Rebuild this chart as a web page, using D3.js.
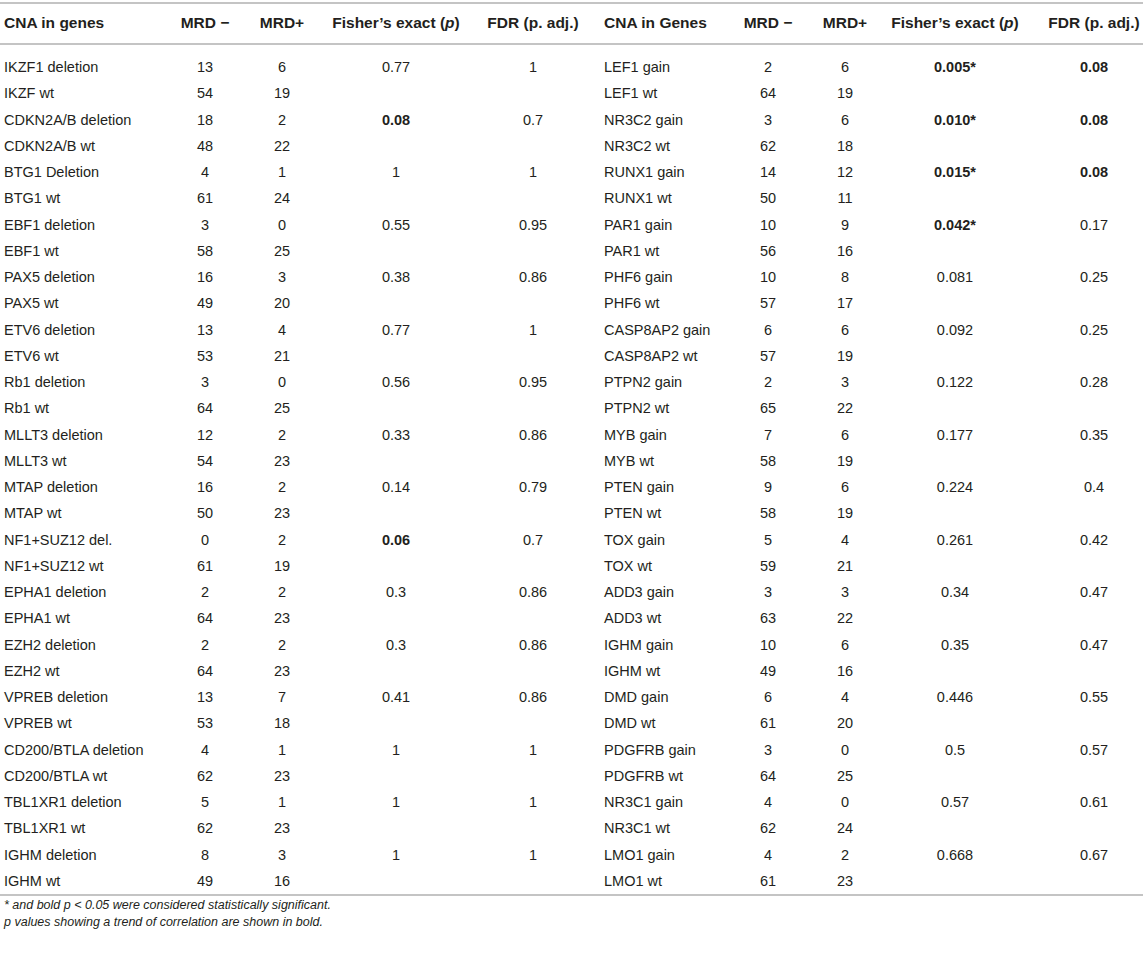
<!DOCTYPE html>
<html>

<head>
  <meta charset='utf-8'>
  <style>
    body { margin: 0; background: #fff; }
    text { font-family: 'Liberation Sans', Arial, sans-serif; fill: #231f20; }
  </style>
  <script src='https://cdn.jsdelivr.net/npm/d3@7'></script>
</head>

<body>

  <script type='module'>

    let [width, height] = [1143, 954]

    // left table
    let leftGenes = ['IKZF1 deletion', 'IKZF wt', 'CDKN2A/B deletion', 'CDKN2A/B wt', 'BTG1 Deletion', 'BTG1 wt',
      'EBF1 deletion', 'EBF1 wt', 'PAX5 deletion', 'PAX5 wt', 'ETV6 deletion', 'ETV6 wt', 'Rb1 deletion', 'Rb1 wt',
      'MLLT3 deletion', 'MLLT3 wt', 'MTAP deletion', 'MTAP wt', 'NF1+SUZ12 del.', 'NF1+SUZ12 wt',
      'EPHA1 deletion', 'EPHA1 wt', 'EZH2 deletion', 'EZH2 wt', 'VPREB deletion', 'VPREB wt',
      'CD200/BTLA deletion', 'CD200/BTLA wt', 'TBL1XR1 deletion', 'TBL1XR1 wt', 'IGHM deletion', 'IGHM wt']
    let leftMrdNeg = [13, 54, 18, 48, 4, 61, 3, 58, 16, 49, 13, 53, 3, 64, 12, 54, 16, 50, 0, 61, 2, 64, 2, 64, 13, 53, 4, 62, 5, 62, 8, 49]
    let leftMrdPos = [6, 19, 2, 22, 1, 24, 0, 25, 3, 20, 4, 21, 0, 25, 2, 23, 2, 23, 2, 19, 2, 23, 2, 23, 7, 18, 1, 23, 1, 23, 3, 16]
    let leftFisher = ['0.77', '', '0.08', '', '1', '', '0.55', '', '0.38', '', '0.77', '', '0.56', '', '0.33', '', '0.14', '',
      '0.06', '', '0.3', '', '0.3', '', '0.41', '', '1', '', '1', '', '1', '']
    let leftFdr = ['1', '', '0.7', '', '1', '', '0.95', '', '0.86', '', '1', '', '0.95', '', '0.86', '', '0.79', '',
      '0.7', '', '0.86', '', '0.86', '', '0.86', '', '1', '', '1', '', '1', '']
    let leftFisherBold = ['0.08', '0.06']
    let leftFdrBold = []

    // right table
    let rightGenes = ['LEF1 gain', 'LEF1 wt', 'NR3C2 gain', 'NR3C2 wt', 'RUNX1 gain', 'RUNX1 wt', 'PAR1 gain', 'PAR1 wt',
      'PHF6 gain', 'PHF6 wt', 'CASP8AP2 gain', 'CASP8AP2 wt', 'PTPN2 gain', 'PTPN2 wt', 'MYB gain', 'MYB wt',
      'PTEN gain', 'PTEN wt', 'TOX gain', 'TOX wt', 'ADD3 gain', 'ADD3 wt', 'IGHM gain', 'IGHM wt',
      'DMD gain', 'DMD wt', 'PDGFRB gain', 'PDGFRB wt', 'NR3C1 gain', 'NR3C1 wt', 'LMO1 gain', 'LMO1 wt']
    let rightMrdNeg = [2, 64, 3, 62, 14, 50, 10, 56, 10, 57, 6, 57, 2, 65, 7, 58, 9, 58, 5, 59, 3, 63, 10, 49, 6, 61, 3, 64, 4, 62, 4, 61]
    let rightMrdPos = [6, 19, 6, 18, 12, 11, 9, 16, 8, 17, 6, 19, 3, 22, 6, 19, 6, 19, 4, 21, 3, 22, 6, 16, 4, 20, 0, 25, 0, 24, 2, 23]
    let rightFisher = ['0.005*', '', '0.010*', '', '0.015*', '', '0.042*', '', '0.081', '', '0.092', '', '0.122', '', '0.177', '',
      '0.224', '', '0.261', '', '0.34', '', '0.35', '', '0.446', '', '0.5', '', '0.57', '', '0.668', '']
    let rightFdr = ['0.08', '', '0.08', '', '0.08', '', '0.17', '', '0.25', '', '0.25', '', '0.28', '', '0.35', '',
      '0.4', '', '0.42', '', '0.47', '', '0.47', '', '0.55', '', '0.57', '', '0.61', '', '0.67', '']
    let rightFisherBold = ['0.005*', '0.010*', '0.015*', '0.042*']
    let rightFdrBold = ['0.08']

    let footnotes = [
      '* and bold p < 0.05 were considered statistically significant.',
      'p values showing a trend of correlation are shown in bold.'
    ]

    let y = d3.scalePoint(d3.range(leftGenes.length), [67, 881])

    let svg = d3.select('body')
      .append('svg')
      .attr('width', width)
      .attr('height', height)

    // rules
    svg.selectAll('line.rule')
      .data([3, 44, 895])
      .enter()
      .append('line')
      .attr('x1', 0)
      .attr('x2', width)
      .attr('y1', d => d)
      .attr('y2', d => d)
      .attr('stroke', '#c4c4c4')
      .attr('stroke-width', 2)

    let drawTable = (g, x, labelHead, genes, neg, pos, fisher, fdr, fisherBold, fdrBold) => {
      let head = g.append('g').attr('font-weight', 'bold').attr('font-size', 15.5)
      head.append('text').attr('x', x.label).attr('y', 22).attr('dominant-baseline', 'central').text(labelHead)
      head.append('text').attr('x', x.neg).attr('y', 22).attr('dominant-baseline', 'central').attr('text-anchor', 'middle').text('MRD \u2212')
      head.append('text').attr('x', x.pos).attr('y', 22).attr('dominant-baseline', 'central').attr('text-anchor', 'middle').text('MRD+')
      let f = head.append('text').attr('x', x.fisher).attr('y', 22).attr('dominant-baseline', 'central').attr('text-anchor', 'middle')
      f.append('tspan').text('Fisher\u2019s exact (')
      f.append('tspan').attr('font-style', 'italic').text('p')
      f.append('tspan').text(')')
      head.append('text').attr('x', x.fdr).attr('y', 22).attr('dominant-baseline', 'central').attr('text-anchor', 'middle').text('FDR (p. adj.)')

      let rows = g.selectAll('g.row')
        .data(genes.map((gene, i) => ({ i, gene, neg: neg[i], pos: pos[i], fisher: fisher[i], fdr: fdr[i] })))
        .enter()
        .append('g')
        .attr('transform', d => `translate(0,${y(d.i)})`)
        .attr('font-size', 14.5)

      rows.append('text').attr('x', x.label).attr('dominant-baseline', 'central').text(d => d.gene)
      rows.append('text').attr('x', x.neg).attr('dominant-baseline', 'central').attr('text-anchor', 'middle').text(d => d.neg)
      rows.append('text').attr('x', x.pos).attr('dominant-baseline', 'central').attr('text-anchor', 'middle').text(d => d.pos)
      rows.append('text').attr('x', x.fisher).attr('dominant-baseline', 'central').attr('text-anchor', 'middle')
        .attr('font-weight', d => fisherBold.includes(d.fisher) ? 'bold' : null)
        .text(d => d.fisher)
      rows.append('text').attr('x', x.fdr).attr('dominant-baseline', 'central').attr('text-anchor', 'middle')
        .attr('font-weight', d => fdrBold.includes(d.fdr) ? 'bold' : null)
        .text(d => d.fdr)
    }

    drawTable(svg.append('g'), { label: 4, neg: 205, pos: 282, fisher: 396, fdr: 533 },
      'CNA in genes', leftGenes, leftMrdNeg, leftMrdPos, leftFisher, leftFdr, leftFisherBold, leftFdrBold)
    drawTable(svg.append('g'), { label: 604, neg: 768, pos: 845, fisher: 955, fdr: 1094 },
      'CNA in Genes', rightGenes, rightMrdNeg, rightMrdPos, rightFisher, rightFdr, rightFisherBold, rightFdrBold)

    svg.selectAll('text.note')
      .data(footnotes)
      .enter()
      .append('text')
      .attr('x', 4)
      .attr('y', (d, i) => 905 + i * 17)
      .attr('dominant-baseline', 'central')
      .attr('font-size', 12.5)
      .attr('font-style', 'italic')
      .text(d => d)
  </script>
</body>

</html>
